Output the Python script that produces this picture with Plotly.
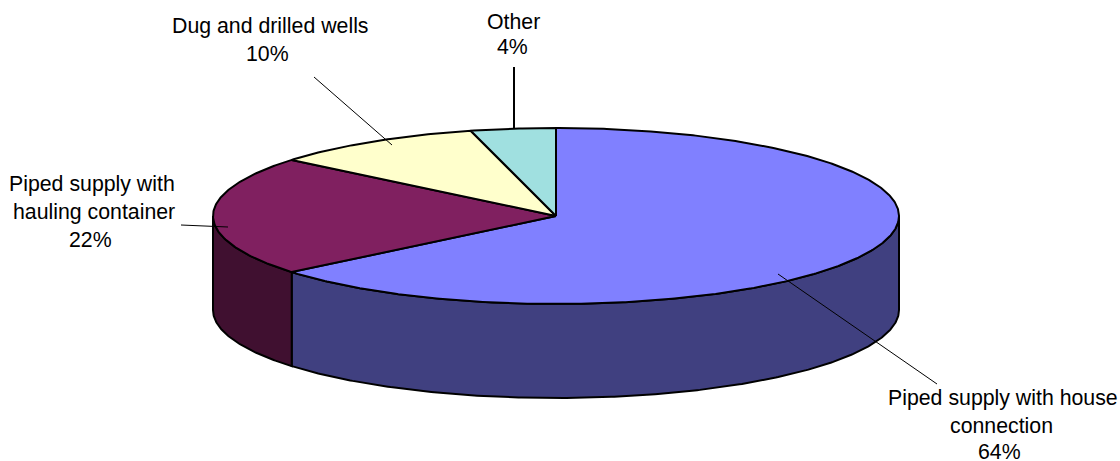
import math
import plotly.graph_objects as go

# Slices in clockwise order from twelve o'clock
categories = ["Piped supply with house connection", "Piped supply with hauling container",
              "Dug and drilled wells", "Other"]
shares = [64, 22, 10, 4]
top_colors = ["#8080FF", "#802060", "#FFFFCC", "#A0E0E0"]
wall_colors = ["#404080", "#401030", "#808066", "#507070"]

# Disc geometry on a pixel-scaled pair of axes
CX, CY, RX, RY, DEPTH = 556, 216, 343, 88, 94
OUTLINE = dict(color="black", width=2)

# Label lines: text, centre x, centre y of each line
label_lines = [
    [("Piped supply with house", 1003, 398), ("connection", 1001, 426), ("64%", 999, 452)],
    [("Piped supply with", 92, 184), ("hauling container", 94, 212), ("22%", 90, 240)],
    [("Dug and drilled wells", 270, 26), ("10%", 267, 54)],
    [("Other", 513, 22), ("4%", 512, 47)],
]
# Leader lines: x pair, y pair, width
leaders = [
    ((778, 937), (274, 384), 1),
    ((181, 228), (225, 227), 1),
    ((314, 392), (77, 145), 1),
    ((514, 514), (67, 128), 2),
]


def rim(a0, a1, drop=0):
    """Points along the ellipse between two clockwise angles in degrees."""
    n = max(2, int(abs(a1 - a0) * 2))
    angles = [math.radians(a0 + (a1 - a0) * i / n) for i in range(n + 1)]
    return ([CX + RX * math.sin(a) for a in angles],
            [CY - RY * math.cos(a) + drop for a in angles])


fig = go.Figure()
spans = []
start = 0.0
for share in shares:
    end = start + share * 3.6
    spans.append((start, end))
    start = end

# Visible outer wall: only the front half of the rim, 90 to 270 degrees
for (a0, a1), color in zip(spans, wall_colors):
    lo, hi = max(a0, 90), min(a1, 270)
    if lo >= hi:
        continue
    xt, yt = rim(lo, hi)
    xb, yb = rim(hi, lo, DEPTH)
    fig.add_trace(go.Scatter(x=xt + xb + xt[:1], y=yt + yb + yt[:1], mode="lines",
                             fill="toself", fillcolor=color, line=OUTLINE, hoverinfo="skip"))

# Top face wedges
for (a0, a1), color in zip(spans, top_colors):
    xr, yr = rim(a0, a1)
    fig.add_trace(go.Scatter(x=[CX] + xr + [CX], y=[CY] + yr + [CY], mode="lines",
                             fill="toself", fillcolor=color, line=OUTLINE, hoverinfo="skip"))

for xs, ys, width in leaders:
    fig.add_trace(go.Scatter(x=list(xs), y=list(ys), mode="lines",
                             line=dict(color="black", width=width), hoverinfo="skip"))

for group in label_lines:
    for text, x, y in group:
        fig.add_annotation(x=x, y=y, text=text, showarrow=False, xanchor="center", yanchor="middle",
                           font=dict(family="Liberation Sans", size=21.3, color="black"))

fig.update_layout(
    width=1120, height=461, margin=dict(l=0, r=0, t=0, b=0),
    paper_bgcolor="white", plot_bgcolor="white", showlegend=False,
    xaxis=dict(range=[0, 1120], visible=False, fixedrange=True),
    yaxis=dict(range=[461, 0], visible=False, fixedrange=True),
)
fig.write_html("out.html", config=dict(displayModeBar=False))
